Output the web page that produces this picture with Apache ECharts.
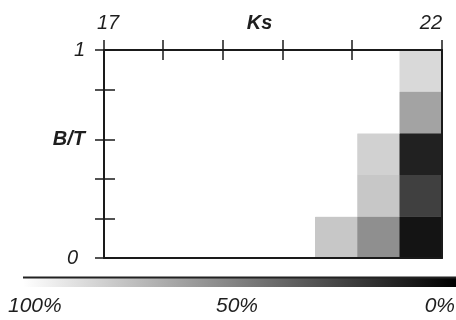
<!DOCTYPE html>
<html>
<head>
<meta charset="utf-8">
<script src="https://cdn.jsdelivr.net/npm/echarts@6/dist/echarts.min.js"></script>
<style>
html,body{margin:0;padding:0;background:#fff;}
#main{width:456px;height:320px;}
</style>
</head>
<body>
<div id="main"></div>
<script>
// Ks bins (columns) and B/T bins (rows, bottom to top)
const ksBins = ['17.0','17.6','18.3','18.9','19.5','20.1','20.8','21.4'];
const btBins = ['0.0','0.2','0.4','0.6','0.8'];
// cell values in percent (100% = white, 0% = black), one array per B/T row, bottom to top
const row0 = [100, 100, 100, 100, 100, 78, 56, 8];
const row1 = [100, 100, 100, 100, 100, 100, 78, 25];
const row2 = [100, 100, 100, 100, 100, 100, 82, 13];
const row3 = [100, 100, 100, 100, 100, 100, 100, 64];
const row4 = [100, 100, 100, 100, 100, 100, 100, 85];
// axis ticks and labels
const ksTicks = [17, 17.87, 18.76, 19.65, 20.67, 22];
const ksLabelValues = [17, 19.3, 22];
const ksLabelTexts = ['17', 'Ks', '22'];
const btTicks = [0, 0.19, 0.38, 0.57, 0.81, 1];
const btLabelValues = [0, 0.57, 1];
const btLabelTexts = ['0', 'B/T', '1'];
const colorbarLabels = ['100%', '50%', '0%'];

const rows = [row0, row1, row2, row3, row4];
const data = [];
rows.forEach((r, yi) => r.forEach((v, xi) => data.push([xi, yi, v])));

const FONT = "'Liberation Sans', Arial, sans-serif";
const LINE = '#1a1a1a';
const TXT = '#1e1e1e';

// style key per label text (bold names, small nudges)
const labelStyleKey = {'Ks': 'b', 'B/T': 'b', '17': 'l', '0': 'r'};
function lbl(list, texts) {
  return function (v) {
    for (let i = 0; i < list.length; i++) {
      if (Math.abs(list[i] - v) < 1e-6) {
        const k = labelStyleKey[texts[i]];
        return k ? '{' + k + '|' + texts[i] + '}' : texts[i];
      }
    }
    return '';
  };
}
const baseText = {fontFamily: FONT, fontSize: 20, fontStyle: 'italic', color: TXT};
const richStyles = {
  b: Object.assign({fontWeight: 'bold'}, baseText),
  l: Object.assign({padding: [0, 0, 0, 8]}, baseText),
  r: Object.assign({padding: [0, 7, 0, 0]}, baseText)
};

const gridPos = {left: 104, right: 14, top: 50, bottom: 62, containLabel: false};

const chart = echarts.init(document.getElementById('main'), null, {renderer: 'canvas'});
chart.setOption({
  animation: false,
  backgroundColor: '#ffffff',
  grid: [Object.assign({}, gridPos), Object.assign({}, gridPos)],
  visualMap: {
    type: 'continuous', show: false, min: 0, max: 100, dimension: 2, seriesIndex: 0,
    inRange: {color: ['#000000', '#ffffff']}
  },
  xAxis: [
    {gridIndex: 0, type: 'category', data: ksBins, position: 'bottom', z: 5,
     axisLine: {show: true, onZero: false, lineStyle: {color: LINE, width: 2}},
     axisTick: {show: false}, axisLabel: {show: false}, splitLine: {show: false}},
    {gridIndex: 0, type: 'value', min: 17, max: 22, position: 'top', z: 5,
     axisLine: {show: true, onZero: false, lineStyle: {color: LINE, width: 2}},
     axisTick: {show: true, customValues: ksTicks, length: 10, inside: false, lineStyle: {color: LINE, width: 1.5}},
     axisLabel: Object.assign({show: true, customValues: ksLabelValues, formatter: lbl(ksLabelValues, ksLabelTexts),
       margin: 17, alignMaxLabel: 'right', rich: richStyles}, baseText),
     splitLine: {show: false}},
    {gridIndex: 1, type: 'value', min: 17, max: 22, position: 'top', z: 5,
     axisLine: {show: false, onZero: false},
     axisTick: {show: true, customValues: ksTicks, length: 10, inside: true, lineStyle: {color: LINE, width: 1.5}},
     axisLabel: {show: false}, splitLine: {show: false}}
  ],
  yAxis: [
    {gridIndex: 0, type: 'category', data: btBins, position: 'right', z: 5,
     axisLine: {show: true, onZero: false, lineStyle: {color: LINE, width: 2}},
     axisTick: {show: false}, axisLabel: {show: false}, splitLine: {show: false}},
    {gridIndex: 0, type: 'value', min: 0, max: 1, position: 'left', z: 5,
     axisLine: {show: true, onZero: false, lineStyle: {color: LINE, width: 2}},
     axisTick: {show: true, customValues: btTicks, length: 9, inside: false, lineStyle: {color: LINE, width: 1.5}},
     axisLabel: Object.assign({show: true, customValues: btLabelValues, formatter: lbl(btLabelValues, btLabelTexts),
       margin: 19, rich: richStyles}, baseText),
     splitLine: {show: false}},
    {gridIndex: 1, type: 'value', min: 0, max: 1, position: 'left', z: 5,
     axisLine: {show: false, onZero: false},
     axisTick: {show: true, customValues: btTicks, length: 11, inside: true, lineStyle: {color: LINE, width: 1.5}},
     axisLabel: {show: false}, splitLine: {show: false}}
  ],
  series: [{
    type: 'heatmap', xAxisIndex: 0, yAxisIndex: 0, data: data,
    itemStyle: {borderWidth: 0}, z: 1,
    emphasis: {disabled: true}
  }],
  graphic: [
    {type: 'rect', left: 23, top: 278, z: 10,
     shape: {width: 433, height: 9},
     style: {fill: new echarts.graphic.LinearGradient(0, 0, 1, 0, [
       {offset: 0, color: '#ffffff'}, {offset: 1, color: '#000000'}])}},
    {type: 'line', z: 11, shape: {x1: 23, y1: 277.5, x2: 456, y2: 277.5},
     style: {stroke: '#222', lineWidth: 2}},
    {type: 'text', left: 8, top: 296, z: 10,
     style: {text: colorbarLabels[0], font: 'italic 21px ' + FONT, fill: TXT}},
    {type: 'text', x: 237, y: 296, z: 10,
     style: {text: colorbarLabels[1], font: 'italic 21px ' + FONT, fill: TXT, textAlign: 'center'}},
    {type: 'text', x: 455, y: 296, z: 10,
     style: {text: colorbarLabels[2], font: 'italic 21px ' + FONT, fill: TXT, textAlign: 'right'}}
  ]
});
</script>
</body>
</html>
